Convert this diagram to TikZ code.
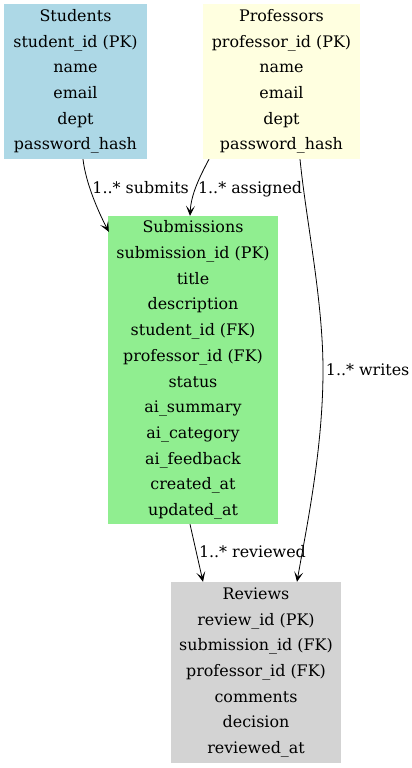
\documentclass[tikz,border=0pt]{standalone}
\usepackage{fontspec}
\setmainfont{DejaVu Serif}
\usetikzlibrary{arrows.meta}
\definecolor{studentblue}{RGB}{173,216,230}
\definecolor{profyellow}{RGB}{255,255,224}
\definecolor{subgreen}{RGB}{144,238,144}
\definecolor{revgray}{RGB}{211,211,211}
\begin{document}
\begin{tikzpicture}[x=1pt,y=-1pt,
  entity/.style={fill=#1, inner sep=0pt, align=center, font=\fontsize{15.9}{25.7}\selectfont},
  rel/.style={-{Stealth[length=10pt,width=9pt,inset=5pt]}, line width=0.8pt},
  lbl/.style={right, inner sep=2.5pt, font=\fontsize{15.9}{19}\selectfont}]
\useasboundingbox (0,0) rectangle (412,768);

% tables
\node [entity=studentblue, minimum width=143pt, minimum height=155pt] (students) at (75.5,81.5)
  {Students\\student\_id (PK)\\name\\email\\dept\\password\_hash};
\node [entity=profyellow, minimum width=157pt, minimum height=155pt] (professors) at (281.5,81.5)
  {Professors\\professor\_id (PK)\\name\\email\\dept\\password\_hash};
\node [entity=subgreen, minimum width=170pt, minimum height=308pt] (submissions) at (193,370)
  {Submissions\\submission\_id (PK)\\title\\description\\student\_id (FK)\\professor\_id (FK)\\status\\ai\_summary\\ai\_category\\ai\_feedback\\created\_at\\updated\_at};
\node [entity=revgray, minimum width=170pt, minimum height=181pt] (reviews) at (256,672.5)
  {Reviews\\review\_id (PK)\\submission\_id (FK)\\professor\_id (FK)\\comments\\decision\\reviewed\_at};

\coordinate (writesbend) at (323,370);

% relations
\draw [rel] ([xshift=7.5pt]students.south) .. controls (86,185) and (100,215) .. ([xshift=1pt,yshift=-16pt]submissions.north west) node [lbl, pos=.35] {1..* submits};
\draw [rel] ([xshift=-72.5pt]professors.south) .. controls (199,178) and (191,195) .. ([xshift=-3pt]submissions.north) node [lbl, pos=.55] {1..* assigned};
\draw [rel] ([xshift=18.5pt]professors.south) .. controls (306,220) and (323,300) .. (writesbend) node [lbl] {1..* writes} .. controls (323,450) and (306,530) .. ([xshift=41pt]reviews.north);
\draw [rel] ([xshift=-3pt]submissions.south) -- node [lbl, pos=.47] {1..* reviewed} ([xshift=-53pt]reviews.north);
\end{tikzpicture}
\end{document}
